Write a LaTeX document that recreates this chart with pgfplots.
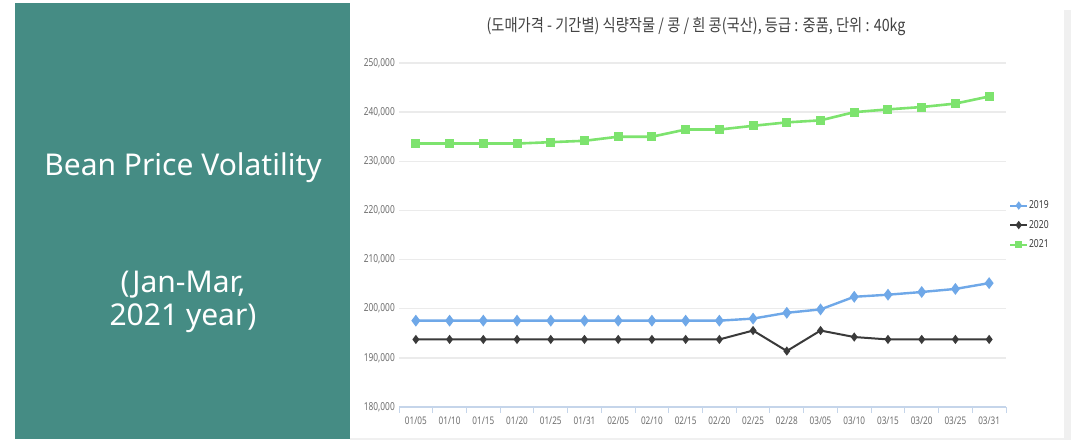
\documentclass[border=0pt]{standalone}
\usepackage{pgfplots}
\pgfplotsset{compat=1.18}
\usepackage{pgfplotstable}
\usepackage{fontspec}
\setmainfont{Noto Sans}
\newfontfamily\kr{Noto Sans CJK KR}
\definecolor{teal1}{HTML}{458C84}
\definecolor{c19}{HTML}{6FA8E8}
\definecolor{c20}{HTML}{3A3A3A}
\definecolor{c21}{HTML}{7DE36E}
\definecolor{gridc}{HTML}{EBEBEB}
\definecolor{axc}{HTML}{C5D5EA}
\definecolor{txt}{HTML}{6E6E6E}
\pgfplotstableread{
idx v19 v20 v21
0 197570 193750 233610
1 197570 193750 233610
2 197570 193750 233610
3 197570 193750 233610
4 197570 193750 233890
5 197570 193750 234170
6 197570 193750 235000
7 197570 193750 235000
8 197570 193750 236460
9 197570 193750 236460
10 197990 195560 237220
11 199170 191390 237920
12 199860 195560 238330
13 202430 194240 240000
14 202850 193750 240560
15 203400 193750 241040
16 204030 193750 241740
17 205210 193750 243190
}\data
\begin{document}
\begin{tikzpicture}[x=1pt,y=1pt]
\path[use as bounding box] (0,0) rectangle (1071,440);
\fill[white] (0,0) rectangle (1071,440);
\fill[gray!12] (1064,0) rectangle (1071,430);
\fill[gray!12] (350,0) rectangle (1071,2);
\fill[teal1] (15,1) rectangle (350,437);
\node[white,font=\fontsize{30}{34}\selectfont] at (183,272) {Bean Price Volatility};
\node[white,font=\fontsize{30}{33}\selectfont,align=center] at (183,138) {(Jan-Mar,\\2021 year)};
\node[txt!60!black,font=\kr\fontsize{17}{20}\selectfont,xscale=0.84] at (696,413) {(도매가격 - 기간별) 식량작물 / 콩 / 흰 콩(국산), 등급 : 중품, 단위 : 40kg};
\begin{axis}[
  at={(399pt,33pt)}, anchor=south west,
  scale only axis, width=607pt, height=344pt,
  xmin=-0.5, xmax=17.5, ymin=180000, ymax=250000,
  axis line style={draw=none},
  xtick={0,...,17},
  xticklabels={01/05,01/10,01/15,01/20,01/25,01/31,02/05,02/10,02/15,02/20,02/25,02/28,03/05,03/10,03/15,03/20,03/25,03/31},
  major tick length=0pt,
  x tick label style={font=\fontsize{10.5}{12}\selectfont,text=txt,xscale=0.78,yshift=-6pt},
  ytick={180000,190000,...,250000},
  yticklabels={180{,}000,190{,}000,200{,}000,210{,}000,220{,}000,230{,}000,240{,}000,250{,}000},
  y tick label style={font=\fontsize{11}{12}\selectfont,text=txt,xscale=0.76,xshift=-2pt},
  scaled y ticks=false,
  ymajorgrids, grid style={gridc,line width=1.4pt},
  clip=false,
  legend style={at={(1.0,0.529)},anchor=west,xshift=0pt,draw=none,fill=none,
    font=\fontsize{11}{12}\selectfont,text=c20,row sep=8pt,
    nodes={xscale=0.78,inner sep=1pt}},
  legend cell align=left,
  legend image post style={mark size=2.6pt,line width=2pt},
]
\draw[axc,line width=1.2pt] (axis cs:-0.5,180000) -- (axis cs:17.5,180000);
\pgfplotsinvokeforeach{-0.5,0.5,...,17.5}{
  \draw[axc,line width=1pt] (axis cs:#1,180000) -- ++(0pt,-6pt);
}
\addplot[c19,line width=2.4pt,mark=diamond*,mark size=4pt,mark options={fill=c19}] table[x=idx,y=v19]{\data};
\addlegendentry{2019}
\addplot[c20,line width=2pt,mark=diamond*,mark size=3pt,mark options={fill=c20}] table[x=idx,y=v20]{\data};
\addlegendentry{2020}
\addplot[c21,line width=2.6pt,mark=square*,mark size=3.2pt,mark options={fill=c21}] table[x=idx,y=v21]{\data};
\addlegendentry{2021}
\end{axis}
\end{tikzpicture}
\end{document}
